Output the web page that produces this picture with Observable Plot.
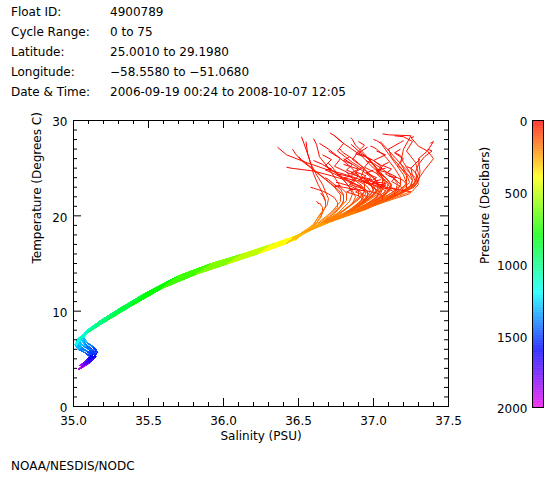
<!DOCTYPE html>
<html><head><meta charset="utf-8">
<script src="https://cdn.jsdelivr.net/npm/d3@7"></script>
<script src="https://cdn.jsdelivr.net/npm/@observablehq/plot@0.6"></script>
<style>
body{margin:0;background:#fff;}
#wrap{position:relative;width:560px;height:480px;font-family:"DejaVu Sans",sans-serif;font-size:12px;color:#000;overflow:hidden;background:#fff}
.t{position:absolute;white-space:nowrap;line-height:14px}
#wrap svg{position:absolute;top:0;}
</style></head><body><div id="wrap"></div>
<script>
// ---------- header / footer text ----------
const headerLabels = ["Float ID:", "Cycle Range:", "Latitude:", "Longitude:", "Date & Time:"];
const headerValues = ["4900789", "0 to 75", "25.0010 to 29.1980", "\u221258.5580 to \u221251.0680", "2006-09-19 00:24 to 2008-10-07 12:05"];
const footerText = "NOAA/NESDIS/NODC";

// ---------- axes ----------
const xTicks = [35.0, 35.5, 36.0, 36.5, 37.0, 37.5];
const xMinor = [35.1,35.2,35.3,35.4,35.6,35.7,35.8,35.9,36.1,36.2,36.3,36.4,36.6,36.7,36.8,36.9,37.1,37.2,37.3,37.4];
const yTicks = [0, 10, 20, 30];
const yMinor = [1,2,3,4,5,6,7,8,9,11,12,13,14,15,16,17,18,19,21,22,23,24,25,26,27,28,29];
const pTicks = [0, 500, 1000, 1500, 2000];

// ---------- profile data (pressure levels, dbar) ----------
const upperP = [0, 15, 30, 45, 60, 80, 110, 150, 200, 250];
const deepP = [300, 400, 500, 600, 700, 800, 900, 1000, 1100, 1200, 1300, 1400, 1500, 1600, 1700, 1800, 1900, 2000];

// upper-ocean salinity / temperature for each profile (0-250 dbar)
const profS = [
  [37.05,37.05,37.08,37.15,37.22,37.28,37.30,37.26,37.02,36.78],
  [37.38,37.40,37.36,37.30,37.31,37.30,37.27,37.18,36.98,36.76],
  [36.36,36.42,36.55,36.68,36.82,36.95,37.05,37.02,36.90,36.72],
  [36.42,36.45,36.60,36.72,36.85,36.92,36.95,36.92,36.82,36.70],
  [36.71,36.74,36.80,36.92,37.00,37.08,37.12,37.08,36.93,36.74],
  [37.06,37.10,37.25,37.20,37.18,37.22,37.24,37.18,36.98,36.75],
  [37.27,37.25,37.30,37.36,37.40,37.34,37.28,37.20,36.98,36.76],
  [36.65,36.65,36.66,36.66,36.67,36.67,36.68,36.68,36.66,36.62],
  [36.62,36.63,36.63,36.64,36.65,36.65,36.66,36.66,36.65,36.60],
  [36.55,36.56,36.58,36.62,36.66,36.68,36.70,36.69,36.64,36.60],
  [36.60,36.62,36.64,36.70,36.75,36.78,36.82,36.82,36.75,36.66],
  [36.88,36.90,36.95,37.00,37.05,37.10,37.12,37.08,36.92,36.74],
  [36.95,36.96,37.00,37.05,37.12,37.16,37.15,37.08,36.92,36.74],
  [36.82,36.83,36.85,36.93,37.02,37.06,37.05,37.00,36.88,36.72],
  [37.15,37.16,37.18,37.20,37.24,37.26,37.25,37.18,36.98,36.76],
  [37.22,37.23,37.25,37.28,37.30,37.29,37.24,37.15,36.96,36.75],
  [36.75,36.76,36.78,36.85,36.90,36.93,36.92,36.88,36.80,36.68],
  [36.78,36.78,36.80,36.88,36.96,37.02,37.03,36.98,36.86,36.71],
  [36.98,37.00,37.02,37.08,37.14,37.18,37.18,37.12,36.95,36.75],
  [36.50,36.52,36.56,36.62,36.70,36.76,36.80,36.80,36.74,36.66],
  [37.30,37.31,37.28,37.25,37.26,37.28,37.26,37.18,36.97,36.75],
  [36.90,36.91,36.92,36.96,37.00,37.04,37.02,36.96,36.85,36.70],
  [37.10,37.12,37.16,37.20,37.22,37.22,37.18,37.10,36.94,36.74],
  [36.70,36.70,36.72,36.76,36.82,36.86,36.88,36.86,36.78,36.68],
  [37.00,37.02,37.05,37.10,37.15,37.20,37.22,37.16,36.97,36.75],
  [36.85,36.86,36.88,36.94,37.00,37.05,37.08,37.04,36.90,36.73],
  [37.20,37.18,37.10,37.12,37.18,37.22,37.22,37.15,36.96,36.75],
  [36.68,36.69,36.70,36.73,36.78,36.80,36.80,36.78,36.72,36.65],
  [37.12,37.13,37.15,37.18,37.22,37.25,37.24,37.16,36.97,36.75],
  [36.46,36.48,36.52,36.60,36.68,36.74,36.78,36.78,36.72,36.64],
  [36.80,36.86,36.82,36.90,36.88,36.95,36.98,36.94,36.84,36.70],
  [36.92,36.88,36.95,36.90,36.98,37.00,36.98,36.93,36.84,36.70],
  [36.70,36.78,36.74,36.82,36.86,36.92,36.94,36.90,36.80,36.68],
  [37.00,36.95,37.02,36.98,37.06,37.10,37.08,37.02,36.90,36.72],
  [36.85,36.90,36.86,36.94,36.92,36.98,37.00,36.95,36.85,36.70],
  [36.58,36.60,36.62,36.66,36.70,36.74,36.76,36.76,36.70,36.63],
  [36.95,37.00,37.05,37.02,37.08,37.12,37.10,37.04,36.92,36.73],
  [37.05,37.00,37.08,37.04,37.12,37.16,37.14,37.08,36.94,36.74],
  [36.76,36.82,36.88,36.84,36.92,36.96,36.96,36.92,36.82,36.69],
  [37.10,37.06,37.12,37.08,37.14,37.18,37.16,37.10,36.95,36.74],
  [36.64,36.70,36.78,36.85,36.90,36.94,36.94,36.90,36.80,36.68],
  [36.88,36.84,36.90,36.96,37.02,37.06,37.06,37.00,36.88,36.72],
  [37.18,37.14,37.20,37.16,37.22,37.26,37.24,37.16,36.97,36.75],
  [36.72,36.68,36.74,36.80,36.86,36.90,36.90,36.86,36.78,36.67],
  [36.96,36.90,36.98,36.94,37.04,37.10,37.08,37.02,36.90,36.72],
  [36.74,36.80,36.76,36.86,36.96,37.02,37.04,36.98,36.86,36.71],
  [37.02,37.08,37.00,37.06,37.02,37.08,37.12,37.06,36.92,36.73],
  [36.86,36.80,36.88,36.84,36.92,36.88,36.96,36.94,36.84,36.70],
  [36.60,36.66,36.72,36.80,36.88,36.94,36.98,36.95,36.84,36.70],
  [37.36,37.39,37.34,37.30,37.28,37.29,37.26,37.18,36.97,36.75],
  [36.52,36.55,36.58,36.60,36.63,36.66,36.68,36.68,36.64,36.60],
  [36.94,36.99,36.93,36.99,37.05,37.08,37.06,37.00,36.88,36.72],
  [36.80,36.84,36.90,36.85,36.93,37.00,37.02,36.97,36.86,36.71],
  [37.08,37.03,37.10,37.15,37.12,37.18,37.20,37.14,36.96,36.74],
  [36.90,36.94,36.90,36.97,37.02,37.06,37.06,37.00,36.88,36.72],
  [36.66,36.72,36.68,36.74,36.80,36.84,36.86,36.84,36.77,36.67],
  [36.99,37.04,37.08,37.04,37.10,37.14,37.14,37.08,36.94,36.74],
  [36.78,36.74,36.80,36.86,36.82,36.90,36.94,36.90,36.80,36.69],
  [37.14,37.20,37.26,37.22,37.28,37.30,37.27,37.18,36.97,36.75],
  [36.84,36.80,36.86,36.92,36.98,36.96,37.02,36.98,36.87,36.71]
];
const profT = [
  [27.8,27.7,27.2,26.0,24.8,24.0,23.3,22.6,21.2,19.8],
  [27.6,27.8,26.8,26.0,24.6,23.6,23.0,22.3,21.0,19.7],
  [27.2,26.4,25.6,24.9,24.3,23.6,22.8,22.0,20.6,19.6],
  [25.1,25.0,24.7,24.2,23.6,23.0,22.4,21.6,20.4,19.4],
  [28.7,28.4,27.6,26.3,25.0,24.0,23.2,22.3,20.9,19.7],
  [28.6,28.5,28.4,27.0,25.5,24.4,23.5,22.6,21.1,19.8],
  [28.3,28.2,27.3,26.8,26.0,24.8,23.4,22.5,21.0,19.7],
  [22.4,22.3,22.2,22.1,22.0,21.8,21.5,21.0,20.3,19.2],
  [21.5,21.4,21.3,21.3,21.2,21.1,20.9,20.5,19.8,19.0],
  [27.8,26.6,25.5,24.3,23.3,22.5,21.8,21.1,20.1,19.1],
  [28.1,27.5,26.2,25.0,23.8,23.0,22.4,21.6,20.4,19.4],
  [26.5,26.4,26.2,25.4,24.5,23.7,23.0,22.2,20.9,19.7],
  [25.8,25.7,25.5,25.0,24.2,23.4,22.7,22.0,20.8,19.6],
  [24.6,24.5,24.4,24.0,23.4,22.9,22.4,21.7,20.6,19.5],
  [26.6,26.5,26.3,25.6,24.6,23.8,23.1,22.3,21.0,19.7],
  [25.2,25.1,25.0,24.5,23.9,23.4,22.8,22.1,20.9,19.7],
  [23.5,23.5,23.4,23.1,22.7,22.2,21.7,21.0,20.1,19.3],
  [27.0,26.9,26.6,25.8,24.6,23.6,22.7,21.9,20.7,19.6],
  [27.3,27.2,27.0,26.2,25.0,24.0,23.2,22.4,21.0,19.7],
  [26.2,25.9,25.4,24.6,23.6,22.8,22.1,21.4,20.3,19.3],
  [26.0,25.9,25.5,25.0,24.2,23.6,23.0,22.3,21.0,19.7],
  [23.8,23.8,23.7,23.4,23.0,22.5,21.9,21.3,20.4,19.4],
  [24.2,24.1,24.0,23.7,23.3,22.9,22.4,21.8,20.7,19.6],
  [25.6,25.5,25.2,24.4,23.4,22.6,22.0,21.3,20.3,19.4],
  [28.0,27.9,27.6,26.5,25.4,24.3,23.4,22.5,21.1,19.8],
  [28.2,28.0,27.4,26.5,25.3,24.2,23.3,22.4,20.9,19.7],
  [27.9,27.7,27.0,26.2,25.1,24.2,23.3,22.4,21.0,19.7],
  [24.0,23.9,23.8,23.4,22.8,22.2,21.6,21.0,20.1,19.2],
  [22.9,22.9,22.8,22.7,22.6,22.5,22.3,21.9,20.9,19.7],
  [27.0,26.5,25.8,24.8,23.8,23.0,22.2,21.5,20.4,19.4],
  [26.0,25.4,24.8,24.3,23.8,23.2,22.6,21.8,20.6,19.5],
  [25.0,24.6,24.2,23.7,23.3,22.8,22.2,21.5,20.5,19.4],
  [26.8,26.0,25.2,24.6,23.9,23.2,22.5,21.7,20.5,19.4],
  [24.8,24.5,24.0,23.6,23.2,22.8,22.3,21.7,20.6,19.5],
  [27.5,26.8,25.9,25.0,24.2,23.4,22.6,21.8,20.6,19.5],
  [23.0,22.9,22.8,22.6,22.3,21.9,21.4,20.9,20.0,19.2],
  [26.2,25.8,25.2,24.6,24.0,23.3,22.6,21.9,20.7,19.6],
  [23.8,23.6,23.4,23.1,22.9,22.6,22.2,21.7,20.7,19.6],
  [24.4,24.2,23.9,23.5,23.1,22.6,22.0,21.4,20.4,19.4],
  [25.6,25.3,24.9,24.4,23.9,23.3,22.7,22.0,20.8,19.6],
  [27.6,27.0,26.0,25.1,24.2,23.4,22.6,21.8,20.6,19.5],
  [22.8,22.8,22.7,22.6,22.4,22.1,21.7,21.2,20.3,19.4],
  [27.0,26.6,26.0,25.3,24.5,23.7,23.0,22.2,20.9,19.7],
  [25.0,24.8,24.4,23.9,23.3,22.7,22.0,21.3,20.3,19.3],
  [27.2,26.6,25.9,25.1,24.3,23.4,22.6,21.8,20.6,19.5],
  [28.4,27.6,26.8,25.6,24.6,23.7,22.9,22.0,20.7,19.6],
  [26.8,26.4,25.8,25.2,24.4,23.6,22.8,22.0,20.7,19.6],
  [24.2,24.0,23.7,23.3,22.9,22.5,22.0,21.4,20.4,19.4],
  [25.8,25.4,24.8,24.0,23.3,22.7,22.1,21.5,20.5,19.4],
  [27.0,26.8,26.2,25.4,24.6,23.9,23.2,22.4,21.0,19.7],
  [28.3,27.0,25.6,24.4,23.3,22.4,21.6,20.9,20.0,19.1],
  [24.0,23.8,23.6,23.3,23.0,22.6,22.1,21.5,20.5,19.5],
  [25.4,25.2,24.9,24.5,23.9,23.2,22.5,21.8,20.6,19.5],
  [25.0,24.8,24.5,24.1,23.6,23.1,22.6,22.0,20.8,19.6],
  [27.8,27.4,26.8,26.0,25.0,24.0,23.0,22.1,20.8,19.6],
  [26.4,25.9,25.3,24.6,23.8,23.0,22.3,21.5,20.4,19.4],
  [23.4,23.3,23.2,23.0,22.8,22.5,22.1,21.6,20.6,19.6],
  [23.2,23.1,23.0,22.8,22.5,22.1,21.6,21.0,20.1,19.3],
  [28.4,28.3,27.8,26.8,25.6,24.4,23.4,22.5,21.0,19.7],
  [26.2,25.8,25.4,24.8,24.1,23.4,22.7,22.0,20.7,19.6]
];
// deep water (300-2000 dbar) shapes, and which one each profile follows
const deepS = [
  [36.57,36.47,36.29,36.08,35.87,35.64,35.44,35.26,35.14,35.06,35.04,35.06,35.10,35.13,35.12,35.09,35.07,35.05],
  [36.60,36.50,36.32,36.11,35.90,35.68,35.47,35.29,35.16,35.08,35.05,35.07,35.11,35.14,35.13,35.10,35.08,35.06],
  [36.54,36.44,36.26,36.05,35.84,35.61,35.41,35.23,35.11,35.04,35.03,35.05,35.09,35.12,35.11,35.08,35.06,35.04],
  [36.58,36.46,36.30,36.10,35.88,35.66,35.45,35.27,35.13,35.05,35.03,35.08,35.12,35.15,35.13,35.10,35.08,35.06],
  [36.55,36.48,36.28,36.07,35.85,35.62,35.43,35.25,35.15,35.08,35.06,35.07,35.09,35.12,35.11,35.09,35.06,35.04],
  [36.59,36.49,36.31,36.09,35.89,35.66,35.46,35.28,35.15,35.07,35.02,35.03,35.06,35.10,35.12,35.10,35.08,35.05],
  [36.56,36.45,36.27,36.06,35.86,35.63,35.42,35.24,35.12,35.05,35.04,35.05,35.08,35.11,35.14,35.11,35.08,35.05],
  [36.58,36.48,36.30,36.10,35.88,35.65,35.45,35.27,35.13,35.04,35.02,35.04,35.09,35.14,35.15,35.12,35.09,35.07],
  [36.62,36.52,36.34,36.13,35.92,35.70,35.50,35.31,35.18,35.09,35.06,35.08,35.12,35.15,35.14,35.11,35.09,35.07],
  [36.52,36.42,36.24,36.03,35.82,35.59,35.39,35.21,35.10,35.03,35.02,35.04,35.08,35.11,35.10,35.07,35.05,35.03],
  [36.59,36.50,36.33,36.12,35.91,35.69,35.48,35.30,35.17,35.09,35.07,35.09,35.13,35.16,35.14,35.10,35.07,35.05],
  [36.53,36.43,36.25,36.04,35.83,35.60,35.40,35.22,35.10,35.03,35.01,35.03,35.07,35.11,35.12,35.09,35.06,35.04]
];
const deepT = [
  [18.5,17.6,16.6,15.5,14.4,13.0,11.3,9.6,8.3,7.4,6.9,6.4,6.0,5.6,5.2,4.8,4.5,4.2],
  [18.7,17.9,16.9,15.8,14.7,13.4,11.7,10.0,8.7,7.7,7.1,6.6,6.2,5.8,5.4,5.0,4.7,4.4],
  [18.3,17.3,16.3,15.2,14.1,12.6,10.9,9.2,8.0,7.1,6.6,6.2,5.8,5.4,5.0,4.6,4.3,4.0],
  [18.6,17.7,16.8,15.7,14.5,13.2,11.5,9.8,8.4,7.3,6.7,6.3,5.9,5.5,5.1,4.7,4.4,4.1],
  [18.4,17.5,16.5,15.4,14.2,12.8,11.1,9.4,8.5,7.8,7.3,6.8,6.3,5.8,5.3,4.9,4.5,4.3],
  [18.6,17.8,16.7,15.6,14.6,13.3,11.6,9.9,8.6,7.6,7.0,6.5,6.1,5.7,5.3,4.9,4.6,4.3],
  [18.4,17.4,16.4,15.3,14.3,12.9,11.0,9.3,8.1,7.2,6.8,6.3,5.9,5.5,5.1,4.6,4.3,4.0],
  [18.5,17.7,16.7,15.6,14.5,13.1,11.4,9.7,8.3,7.2,6.5,6.1,5.8,5.5,5.2,4.8,4.5,4.2],
  [18.9,18.1,17.1,16.0,15.0,13.7,12.0,10.3,9.0,8.0,7.4,6.8,6.4,6.0,5.6,5.2,4.8,4.5],
  [18.2,17.1,16.1,15.0,13.9,12.4,10.6,8.9,7.8,6.9,6.4,6.0,5.6,5.2,4.8,4.4,4.1,3.9],
  [18.6,17.8,16.9,15.9,14.9,13.6,11.9,10.2,8.9,7.9,7.2,6.7,6.2,5.7,5.3,4.9,4.6,4.3],
  [18.3,17.2,16.2,15.1,14.0,12.5,10.8,9.0,7.9,7.0,6.5,6.0,5.7,5.3,4.9,4.5,4.2,3.9]
];
const deepVariant = [0,1,2,3,4,5,6,7,8,9,10,11,1,2,0,3,5,4,6,7,8,9,10,11,0,2,1,3,5,4,8,9,10,11,0,1,2,3,4,5,6,7,8,9,10,11,0,1,2,3,4,5,6,7,8,9,10,11,0,1];

// ---------- colour scale (IDL-like rainbow, red at surface -> magenta at depth) ----------
const colorStops = [0, 400, 800, 1200, 1600, 2000];
const colorRange = ["#ff0000", "#ffff00", "#00ff00", "#00ffff", "#0000ff", "#ee00ee"];
const colorScale = {type: "linear", domain: colorStops, range: colorRange, interpolate: "rgb"};

// ---------- build segment table ----------
const levels = upperP.concat(deepP);
const segs = [];
profS.forEach((sUp, i) => {
  const d = deepVariant[i];
  const S = sUp.concat(deepS[d]);
  const T = profT[i].concat(deepT[d]);
  for (let k = 0; k < S.length - 1; k++) {
    segs.push({s1: S[k], t1: T[k], s2: S[k + 1], t2: T[k + 1], p: levels[k]});
  }
});
// draw deep (older) segments first so the surface tangle sits on top
segs.sort((a, b) => b.p - a.p);

const FONT = "DejaVu Sans";
const wrap = document.getElementById("wrap");

// header
headerLabels.forEach((lab, i) => {
  const a = document.createElement("div");
  a.className = "t"; a.style.left = "11px"; a.style.top = (5 + i * 20) + "px"; a.textContent = lab;
  wrap.appendChild(a);
  const b = document.createElement("div");
  b.className = "t"; b.style.left = "110px"; b.style.top = (5 + i * 20) + "px"; b.textContent = headerValues[i];
  wrap.appendChild(b);
});
const foot = document.createElement("div");
foot.className = "t"; foot.style.left = "11px"; foot.style.top = "459px"; foot.textContent = footerText;
wrap.appendChild(foot);

// tick lengths expressed in data units (8px major, 4px minor)
const yPx = (406 - 120) / 30, xPx = (448 - 73) / 2.5;
const tMajY = 8 / yPx, tMinY = 4 / yPx, tMajX = 8 / xPx, tMinX = 4 / xPx;

const main = Plot.plot({
  width: 560, height: 480,
  marginTop: 120, marginBottom: 74, marginLeft: 73, marginRight: 112,
  style: {fontFamily: FONT, fontSize: "12px", color: "#000", background: "transparent"},
  x: {domain: [35, 37.5], axis: null},
  y: {domain: [0, 30], axis: null},
  color: colorScale,
  marks: [
    Plot.link(segs, {x1: "s1", y1: "t1", x2: "s2", y2: "t2", stroke: "p", strokeWidth: 1}),
    Plot.frame({stroke: "#000", strokeWidth: 1}),
    // x ticks bottom & top (inward)
    Plot.ruleX(xTicks, {x: d => d, y1: 0, y2: tMajY, stroke: "#000"}),
    Plot.ruleX(xMinor, {x: d => d, y1: 0, y2: tMinY, stroke: "#000"}),
    Plot.ruleX(xTicks, {x: d => d, y1: 30 - tMajY, y2: 30, stroke: "#000"}),
    Plot.ruleX(xMinor, {x: d => d, y1: 30 - tMinY, y2: 30, stroke: "#000"}),
    // y ticks left & right (inward)
    Plot.ruleY(yTicks, {y: d => d, x1: 35, x2: 35 + tMajX, stroke: "#000"}),
    Plot.ruleY(yMinor, {y: d => d, x1: 35, x2: 35 + tMinX, stroke: "#000"}),
    Plot.ruleY(yTicks, {y: d => d, x1: 37.5 - tMajX, x2: 37.5, stroke: "#000"}),
    Plot.ruleY(yMinor, {y: d => d, x1: 37.5 - tMinX, x2: 37.5, stroke: "#000"}),
    // tick labels
    Plot.text(xTicks, {x: d => d, y: 0, text: d => d.toFixed(1), dy: 15, fill: "#000", fontSize: 12}),
    Plot.text(yTicks, {x: 35, y: d => d, text: d => String(d), textAnchor: "end", dx: -6, dy: 2, fill: "#000", fontSize: 12}),
    // axis titles
    Plot.text(["Salinity (PSU)"], {frameAnchor: "bottom", text: d => d, dy: 33, fill: "#000", fontSize: 12}),
    Plot.text(["Temperature (Degrees C)"], {frameAnchor: "left", text: d => d, rotate: -90, dx: -36, fill: "#000", fontSize: 12})
  ]
});
main.style.left = "0px";
wrap.appendChild(main);

// colour bar
const barBins = d3.range(0, 2000, 5);
const bar = Plot.plot({
  width: 90, height: 480,
  marginTop: 120, marginBottom: 73, marginLeft: 62, marginRight: 17,
  style: {fontFamily: FONT, fontSize: "12px", color: "#000", background: "transparent"},
  x: {domain: [0, 1], axis: null},
  y: {domain: [0, 2000], reverse: true, axis: null},
  color: colorScale,
  marks: [
    Plot.rect(barBins, {x1: 0, x2: 1, y1: d => d, y2: d => d + 5, fill: d => d + 2.5}),
    Plot.frame({stroke: "#000", strokeWidth: 1}),
    Plot.text(pTicks, {x: 0, y: d => d, text: d => String(d), textAnchor: "end", dx: -5, dy: 2, fill: "#000", fontSize: 12}),
    Plot.text(["Pressure (Decibars)"], {frameAnchor: "left", text: d => d, rotate: -90, dx: -47, fill: "#000", fontSize: 12})
  ]
});
bar.style.left = "470px";
wrap.appendChild(bar);
</script></body></html>
